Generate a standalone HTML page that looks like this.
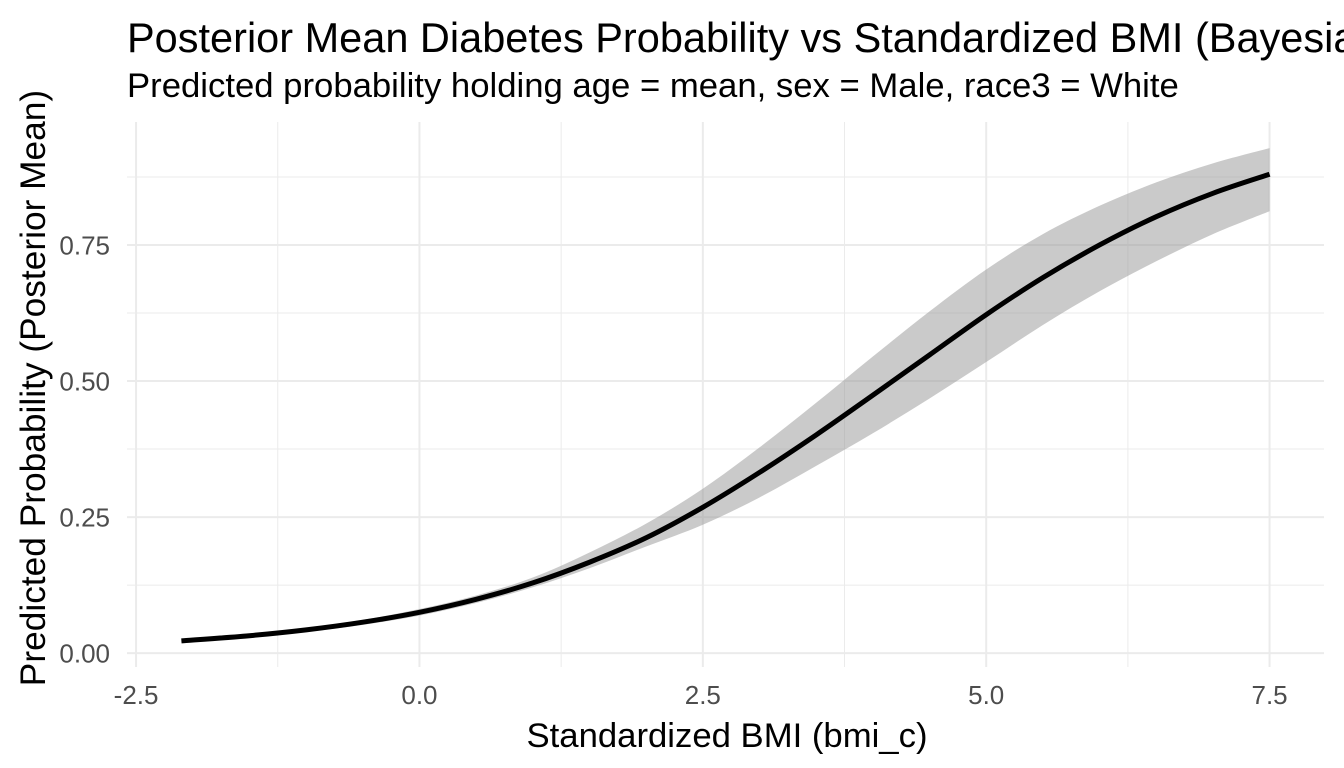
<!DOCTYPE html>
<html><head><meta charset="utf-8"><style>
html,body{margin:0;padding:0;background:#fff;overflow:hidden}
svg{display:block;font-family:"Liberation Sans",Arial,sans-serif}
</style></head><body>
<svg id="chart" width="1344" height="768" viewBox="0 0 1344 768">
<text x="127" y="52" font-size="41.5" fill="#000">Posterior Mean Diabetes Probability vs Standardized BMI (Bayesian Logistic Regression)</text>
<text x="127" y="97" font-size="34.7" fill="#000">Predicted probability holding age = mean, sex = Male, race3 = White</text>
<g id="grid"></g>
<g id="marks"></g>
<g id="axes"></g>
<text x="727" y="747" font-size="34.7" text-anchor="middle" fill="#000">Standardized BMI (bmi_c)</text>
<text transform="translate(45,388) rotate(-90)" font-size="35.3" text-anchor="middle" fill="#000">Predicted Probability (Posterior Mean)</text>
</svg>
<script>
const bmi = [-2.1,-1.5,-1,-0.5,0,0.5,1,1.5,2,2.5,3,3.5,4,4.5,5,5.5,6,6.5,7,7.5];
const probMean = [0.0225,0.032,0.0427,0.0568,0.075,0.0989,0.129,0.167,0.212,0.268,0.332,0.401,0.474,0.548,0.622,0.690,0.750,0.802,0.845,0.880];
const probLower = [0.020,0.029,0.039,0.052,0.069,0.092,0.121,0.156,0.196,0.236,0.286,0.344,0.404,0.468,0.535,0.603,0.665,0.720,0.770,0.812];
const probUpper = [0.025,0.035,0.046,0.061,0.081,0.106,0.139,0.185,0.238,0.302,0.378,0.460,0.545,0.628,0.705,0.770,0.822,0.865,0.900,0.928];
const xTicks = [-2.5,0,2.5,5,7.5];
const xTickLabels = ["-2.5","0.0","2.5","5.0","7.5"];
const yTicks = [0,0.25,0.5,0.75];
const yTickLabels = ["0.00","0.25","0.50","0.75"];
const xMinor = [-1.25,1.25,3.75,6.25];
const yMinor = [0.125,0.375,0.625,0.875];

const L=127,R=1324,T=122,B=667;
const xMin=-2.58,xMax=7.98,yMin=-0.0255,yMax=0.976;
const sx=v=>L+(v-xMin)/(xMax-xMin)*(R-L);
const sy=v=>B-(v-yMin)/(yMax-yMin)*(B-T);
const NS="http://www.w3.org/2000/svg";
function mk(tag,parent,attrs){const e=document.createElementNS(NS,tag);for(const k in attrs)e.setAttribute(k,attrs[k]);parent.appendChild(e);return e;}
const grid=document.getElementById('grid'),marks=document.getElementById('marks'),axes=document.getElementById('axes');
xMinor.forEach(v=>{const l=mk('line',grid,{x1:sx(v),x2:sx(v),y1:T,y2:B,stroke:'#ebebeb','stroke-width':1});

});
yMinor.forEach(v=>{const l=mk('line',grid,{x1:L,x2:R,y1:sy(v),y2:sy(v),stroke:'#ebebeb','stroke-width':1});

});
xTicks.forEach((v,i)=>{const l=mk('line',grid,{x1:sx(v),x2:sx(v),y1:T,y2:B,stroke:'#ebebeb','stroke-width':2});


const t=mk('text',axes,{x:sx(v),y:B+37,'font-size':26,'text-anchor':'middle',fill:'#4d4d4d'});t.textContent=xTickLabels[i];

});
yTicks.forEach((v,i)=>{const l=mk('line',grid,{x1:L,x2:R,y1:sy(v),y2:sy(v),stroke:'#ebebeb','stroke-width':2});


const t=mk('text',axes,{x:L-17,y:sy(v)+9.5,'font-size':26,'text-anchor':'end',fill:'#4d4d4d'});t.textContent=yTickLabels[i];

});
function smooth(pts){let s='M'+pts[0][0]+','+pts[0][1];
for(let i=0;i<pts.length-1;i++){const p0=pts[Math.max(0,i-1)],p1=pts[i],p2=pts[i+1],p3=pts[Math.min(pts.length-1,i+2)];
s+='C'+(p1[0]+(p2[0]-p0[0])/6)+','+(p1[1]+(p2[1]-p0[1])/6)+' '+(p2[0]-(p3[0]-p1[0])/6)+','+(p2[1]-(p3[1]-p1[1])/6)+' '+p2[0]+','+p2[1];}
return s;}
const up=bmi.map((v,i)=>[sx(v),sy(probUpper[i])]);
const lo=bmi.map((v,i)=>[sx(v),sy(probLower[i])]).reverse();
const d=smooth(up)+'L'+smooth(lo).slice(1)+'Z';
const band=mk('path',marks,{d:d,fill:'#999',opacity:0.52});


const pts=bmi.map((v,i)=>[sx(v),sy(probMean[i])]);
const line=mk('path',marks,{d:smooth(pts),fill:'none',stroke:'#000','stroke-width':5});


</script>
</body></html>
